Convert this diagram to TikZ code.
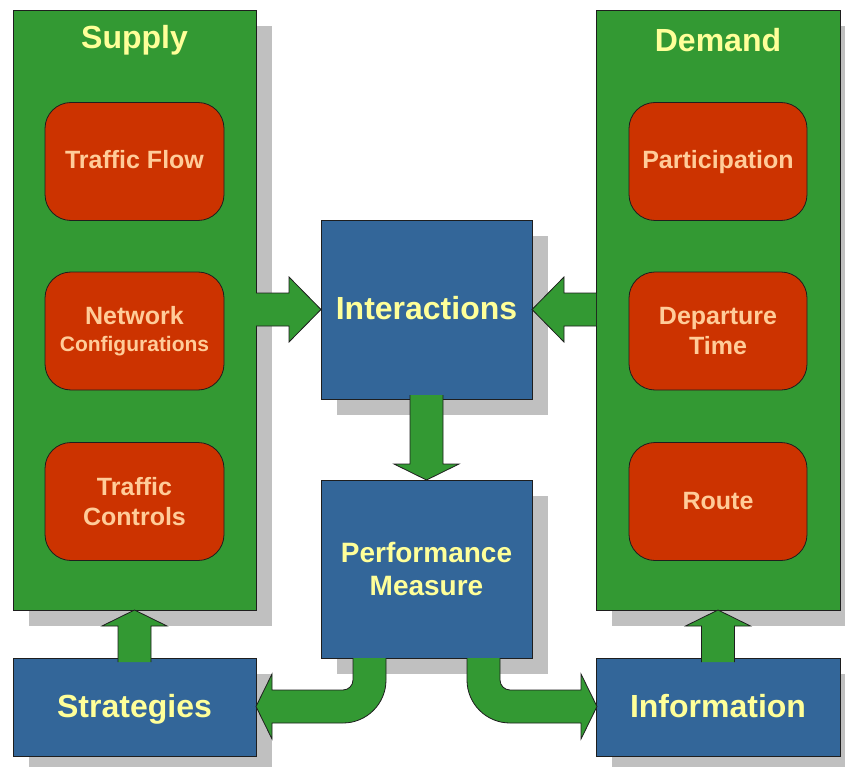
\documentclass[tikz,border=0pt]{standalone}
\usepackage{fontspec}
\setmainfont{Liberation Sans}
\usetikzlibrary{calc,shadows}
\definecolor{sgreen}{HTML}{339933}
\definecolor{sred}{HTML}{CC3300}
\definecolor{sblue}{HTML}{336699}
\definecolor{tyellow}{HTML}{FFFF99}
\definecolor{tpeach}{HTML}{FFCC99}
\definecolor{shadowgrey}{HTML}{C0C0C0}
\definecolor{edgecol}{HTML}{1E1E1E}
\pgfdeclarelayer{bg}
\pgfsetlayers{bg,main}
\tikzset{
  shadowed/.style={drop shadow={shadow xshift=16pt, shadow yshift=-16pt, fill=shadowgrey, opacity=1}},
  panel/.style={shadowed, draw=edgecol, line width=0.8pt, fill=sgreen, minimum width=243pt, minimum height=600pt, inner sep=0pt, outer sep=0pt},
  redbox/.style={draw=edgecol, line width=0.8pt, fill=sred, rounded corners=26pt, minimum width=179pt, minimum height=118pt, inner sep=0pt, outer sep=0pt, align=center, text=tpeach, font=\fontsize{25}{30}\selectfont\bfseries},
  oneline red/.style={text height=19pt, text depth=4pt},
  bluebox/.style={shadowed, draw=edgecol, line width=0.8pt, fill=sblue, minimum width=211pt, minimum height=179pt, inner sep=0pt, outer sep=0pt, align=center, text=tyellow, font=\fontsize{32}{38}\selectfont\bfseries},
  oneline blue/.style={text height=24pt, text depth=4pt},
  paneltitle/.style={text=tyellow, font=\fontsize{32}{38}\selectfont\bfseries, inner sep=0pt, anchor=base},
  arrowfill/.style={fill=sgreen},
  arrowshadow/.style={fill=shadowgrey},
  arrowline/.style={draw=edgecol, line width=0.8pt, line join=miter},
}
\newcommand{\blockarrow}[4]{%
  \begin{scope}[shift={#1}, rotate=#2]
    \fill[arrowfill] (-#3,-16.5) -- (-#4,-16.5) -- (-#4,-32.5) -- (0,0) -- (-#4,32.5) -- (-#4,16.5) -- (-#3,16.5) -- cycle;
    \draw[arrowline] (-#3,-16.5) -- (-#4,-16.5) -- (-#4,-32.5) -- (0,0) -- (-#4,32.5) -- (-#4,16.5) -- (-#3,16.5);
  \end{scope}}
\newcommand{\blockarrowshadow}[4]{%
  \begin{pgfonlayer}{bg}
  \begin{scope}[shift={#1}, xshift=16pt, yshift=-16pt, rotate=#2]
    \fill[arrowshadow] (-#3,-16.5) -- (-#4,-16.5) -- (-#4,-32.5) -- (0,0) -- (-#4,32.5) -- (-#4,16.5) -- (-#3,16.5) -- cycle;
  \end{scope}
  \end{pgfonlayer}}
\newcommand{\bentarrow}[2]{%
  \begin{scope}[shift={#1}, xscale=#2]
    \fill[arrowfill] (-40.5,0) -- (-40.5,22) .. controls (-40.5,45.75) and (-59.75,65) .. (-83.5,65) -- (-154.5,65) -- (-154.5,81) -- (-170.5,48.5) -- (-154.5,16) -- (-154.5,32) -- (-83.5,32) .. controls (-77.98,32) and (-73.5,27.52) .. (-73.5,22) -- (-73.5,0) -- cycle;
    \draw[arrowline] (-40.5,0) -- (-40.5,22) .. controls (-40.5,45.75) and (-59.75,65) .. (-83.5,65) -- (-154.5,65) -- (-154.5,81) -- (-170.5,48.5) -- (-154.5,16) -- (-154.5,32) -- (-83.5,32) .. controls (-77.98,32) and (-73.5,27.52) .. (-73.5,22) -- (-73.5,0);
  \end{scope}}
\begin{document}
\begin{tikzpicture}[x=1pt,y=-1pt]
\useasboundingbox (0,0) rectangle (845,767);
\fill[white] (0,0) rectangle (845,767);
% panels
\node[panel] (supply) at (134.5,310) {};
\node[panel, minimum width=244pt] (demand) at (718,310) {};
\node[paneltitle] (supplyT) at (134.5,49) {Supply};
\node[paneltitle] (demandT) at (718,52) {Demand};
% supply items
\node[redbox, oneline red] (tf) at (134.5,161.5) {Traffic Flow};
\node[redbox] (nc) at (134.5,331) {Network\\[-3pt]{\fontsize{21}{27}\selectfont Configurations}};
\node[redbox] (tc) at (134.5,501.5) {Traffic\\Controls};
% demand items
\node[redbox, oneline red, minimum width=178pt] (part) at (718,161.5) {Participation};
\node[redbox, minimum width=178pt] (dep) at (718,331) {Departure\\Time};
\node[redbox, oneline red, minimum width=178pt] (route) at (718,501.5) {Route};
% blue boxes
\node[bluebox, oneline blue] (inter) at (426.5,309.5) {Interactions};
\node[bluebox, minimum height=178pt, font=\fontsize{28}{33}\selectfont\bfseries] (perf) at (426.5,569) {Performance\\Measure};
\node[bluebox, oneline blue, minimum width=243pt, minimum height=98pt] (strat) at (134.5,707) {Strategies};
\node[bluebox, oneline blue, minimum width=244pt, minimum height=98pt] (info) at (718,707) {Information};
% arrow shadows
\blockarrowshadow{(inter.west)}{0}{65}{32}
\blockarrowshadow{(inter.east)}{180}{64}{32}
% arrows
\blockarrow{(inter.west)}{0}{65}{32}
\blockarrow{(inter.east)}{180}{64}{32}
\blockarrow{(perf.north)}{-90}{85}{16}
\blockarrow{(supply.south)}{90}{52}{16}
\blockarrow{(demand.south)}{90}{52}{16}
\bentarrow{(perf.south)}{1}
\bentarrow{(perf.south)}{-1}
\end{tikzpicture}
\end{document}
